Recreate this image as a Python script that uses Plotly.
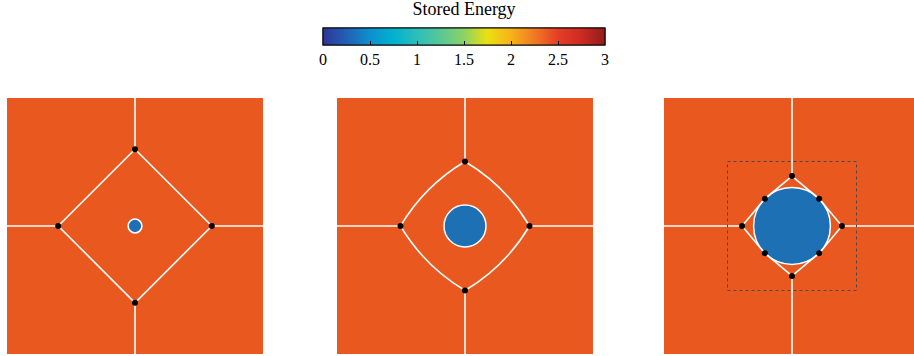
import numpy as np
import plotly.graph_objects as go

# ---------------- data ----------------
panel_names = ["early", "middle", "late"]
junction_offset = [0.300, 0.252, 0.195]   # distance of the 4 main triple junctions from the grain centre
nucleus_radius = [0.027, 0.082, 0.150]   # radius of the recrystallised nucleus
boundary_bulge = [0.0, 0.045, 0.0]       # outward bulge (bezier control offset) of the central grain edges
box_half_size = 0.252                    # dotted region in the last panel
cbar_ticks = [0, 0.5, 1, 1.5, 2, 2.5, 3]
cbar_ticktext = ["0", "0.5", "1", "1.5", "2", "2.5", "3"]
energy_colorscale = [
    [0.000, "rgb(45,55,150)"],
    [0.083, "rgb(35,95,182)"],
    [0.167, "rgb(12,145,205)"],
    [0.250, "rgb(0,178,208)"],
    [0.333, "rgb(45,190,185)"],
    [0.417, "rgb(88,200,150)"],
    [0.500, "rgb(140,210,100)"],
    [0.583, "rgb(235,224,18)"],
    [0.667, "rgb(247,178,25)"],
    [0.750, "rgb(240,122,35)"],
    [0.833, "rgb(228,62,38)"],
    [0.917, "rgb(205,42,35)"],
    [1.000, "rgb(145,28,25)"],
]

# ---------------- style / layout ----------------
W, H = 914, 356
ORANGE = "#E9591F"
BLUE = "#1E70B5"
SERIF = "Liberation Serif"
panel_px = [(7, 263), (337, 593), (664, 914)]
top_px, bot_px = 98, 354
side_px = 256.0

fig = go.Figure()
shapes = []
C = 0.5

for i in range(3):
    ax = "" if i == 0 else str(i + 1)
    xref, yref = "x" + ax, "y" + ax
    d = junction_offset[i]
    r = nucleus_radius[i]

    # nucleus
    shapes.append(dict(type="circle", xref=xref, yref=yref,
                       x0=C - r, x1=C + r, y0=C - r, y1=C + r,
                       fillcolor=BLUE, line=dict(color="white", width=1.5),
                       layer="below"))

    top, bottom = (C, C + d), (C, C - d)
    left, right = (C - d, C), (C + d, C)

    xs, ys = [], []
    # boundaries to the outside
    for (p, q) in [((0, C), left), (right, (1.2, C)), (top, (C, 1)), (bottom, (C, 0))]:
        xs += [p[0], q[0], None]
        ys += [p[1], q[1], None]

    jx = [top[0], right[0], bottom[0], left[0]]
    jy = [top[1], right[1], bottom[1], left[1]]

    ring = [top, right, bottom, left, top]
    if i == 0:
        xs += [p[0] for p in ring]
        ys += [p[1] for p in ring]
    elif i == 1:
        b = boundary_bulge[i]
        for k in range(4):
            p, q = ring[k], ring[k + 1]
            mx, my = (p[0] + q[0]) / 2, (p[1] + q[1]) / 2
            nx, ny = mx - C, my - C
            nn = np.hypot(nx, ny)
            cx, cy = mx + b * nx / nn, my + b * ny / nn
            shapes.append(dict(type="path", xref=xref, yref=yref,
                               path=f"M {p[0]},{p[1]} Q {cx},{cy} {q[0]},{q[1]}",
                               line=dict(color="white", width=1.5), layer="below"))
    else:
        s = r / np.sqrt(2)
        diag = [(C + s, C + s), (C + s, C - s), (C - s, C - s), (C - s, C + s)]
        for k in range(4):
            p, q = ring[k], ring[k + 1]
            m = diag[k]
            xs += [p[0], m[0], q[0], None]
            ys += [p[1], m[1], q[1], None]
            jx.append(m[0])
            jy.append(m[1])
        shapes.append(dict(type="rect", xref=xref, yref=yref,
                           x0=C - box_half_size, x1=C + box_half_size,
                           y0=C - box_half_size, y1=C + box_half_size,
                           line=dict(color="#4a4a4a", width=1, dash="dot"),
                           layer="above"))

    fig.add_trace(go.Scatter(x=xs, y=ys, mode="lines", xaxis=xref, yaxis=yref,
                             line=dict(color="white", width=1.6),
                             hoverinfo="skip", showlegend=False))
    fig.add_trace(go.Scatter(x=jx, y=jy, mode="markers", xaxis=xref, yaxis=yref,
                             marker=dict(color="black", size=6),
                             hoverinfo="skip", showlegend=False))

    l, rr = panel_px[i]
    fig.update_layout(**{
        "xaxis" + ax: dict(domain=[l / W, rr / W], range=[0, (rr - l) / side_px],
                           visible=False, fixedrange=True),
        "yaxis" + ax: dict(domain=[(H - bot_px) / H, (H - top_px) / H], range=[0, 1],
                           visible=False, fixedrange=True),
    })

# colour bar (main: gradient, bottom ticks, labels, title)
cb_common = dict(orientation="h", x=(323 + 605) / 2 / W, xanchor="center",
                 len=282 / W, lenmode="fraction", thickness=17,
                 yanchor="top", xpad=0, ypad=0,
                 outlinecolor="black", outlinewidth=1,
                 tickvals=cbar_ticks, ticktext=cbar_ticktext,
                 ticks="inside", ticklen=4, tickcolor="black", tickwidth=1)

fig.add_trace(go.Scatter(x=[None], y=[None], mode="markers", showlegend=False,
                         marker=dict(color=[0], cmin=0, cmax=3,
                                     colorscale=energy_colorscale, showscale=True,
                                     colorbar=dict(**cb_common, y=1 - 8 / H,
                                                   tickfont=dict(family=SERIF, size=16, color="black"),
                                                   title=dict(text="Stored Energy", side="top",
                                                              font=dict(family=SERIF, size=18, color="black"))))))
# overlay: same bar, ticks on the top edge
fig.add_trace(go.Scatter(x=[None], y=[None], mode="markers", showlegend=False,
                         marker=dict(color=[0], cmin=0, cmax=3,
                                     colorscale=energy_colorscale, showscale=True,
                                     colorbar=dict(**cb_common, y=1 - 28 / H,
                                                   ticklabelposition="outside top",
                                                   showticklabels=False))))

fig.update_layout(width=W, height=H, margin=dict(l=0, r=0, t=0, b=0),
                  paper_bgcolor="white", plot_bgcolor=ORANGE,
                  shapes=shapes, showlegend=False)

fig.write_html("out.html")
